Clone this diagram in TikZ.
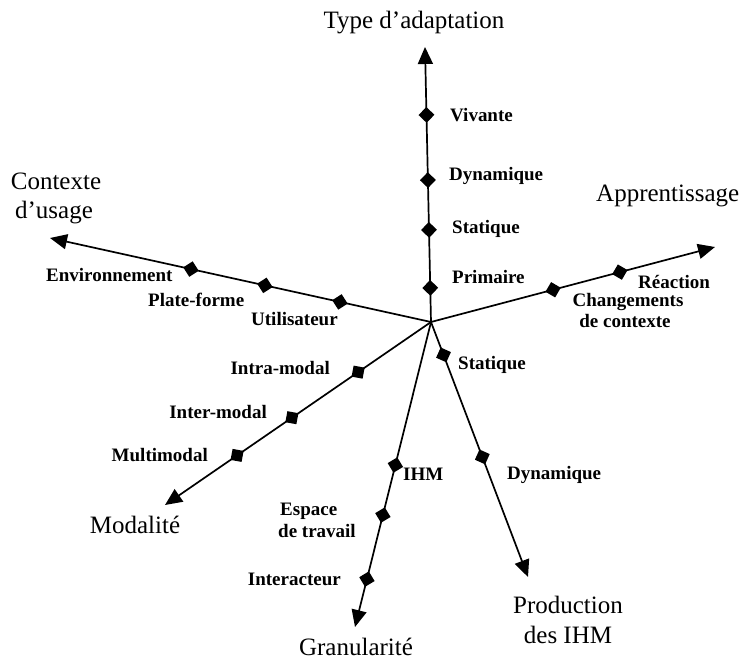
\documentclass[tikz,border=0pt]{standalone}
\usepackage{fontspec}
\setmainfont{Liberation Serif}
\usetikzlibrary{arrows.meta,shapes.geometric}
\begin{document}
\begin{tikzpicture}[x=1pt,y=-1pt,
  axis/.style={line width=1.7pt,-{Triangle[length=17pt,width=15pt]}},
  dia/.style={diamond,fill=black,inner sep=0pt,minimum width=16pt,minimum height=16pt,sloped},
  lab/.style={font=\fontsize{19}{21}\selectfont\bfseries,inner sep=0pt},
  ttl/.style={font=\fontsize{25}{28}\selectfont,inner sep=0pt}]
\useasboundingbox (0,0) rectangle (748,660);

% origin and axis ends
\coordinate (O)  at (431,322);
\coordinate (tT) at (425,47);   % type d'adaptation
\coordinate (tC) at (50,238);   % contexte d'usage
\coordinate (tA) at (715,247);  % apprentissage
\coordinate (tM) at (165,505);  % modalite
\coordinate (tG) at (355,627);  % granularite
\coordinate (tP) at (528,577);  % production des IHM

% axes
\draw[axis] (O) -- (tT);
\draw[axis] (O) -- (tC);
\draw[axis] (O) -- (tA);
\draw[axis] (O) -- (tM);
\draw[axis] (O) -- (tG);
\draw[axis] (O) -- (tP);

% graduation marks
\path (O) -- (tT)
  node[dia,pos=0.124] (dPrim) {}
  node[dia,pos=0.335] (dStat) {}
  node[dia,pos=0.516] (dDyn) {}
  node[dia,pos=0.753] (dViv) {};
\path (O) -- (tC)
  node[dia,pos=0.239] (dUtil) {}
  node[dia,pos=0.436] (dPlat) {}
  node[dia,pos=0.630] (dEnv) {};
\path (O) -- (tA)
  node[dia,pos=0.430] (dChg) {}
  node[dia,pos=0.665] (dReac) {};
\path (O) -- (tM)
  node[dia,pos=0.274] (dIntra) {}
  node[dia,pos=0.523] (dInter) {}
  node[dia,pos=0.729] (dMulti) {};
\path (O) -- (tG)
  node[dia,pos=0.469] (dIHM) {}
  node[dia,pos=0.633] (dEsp) {}
  node[dia,pos=0.843] (dInt) {};
\path (O) -- (tP)
  node[dia,pos=0.129] (dPStat) {}
  node[dia,pos=0.529] (dPDyn) {};

% axis titles
\node[ttl,anchor=base] (nT) at (414,29) {Type d’adaptation};
\node[ttl,anchor=base] (nC1) at (56,190) {Contexte};
\node[ttl,anchor=base] (nC2) at (54,219) {d’usage};
\node[ttl,anchor=base west] (nA) at (596,202) {Apprentissage};
\node[ttl,anchor=base] (nM) at (135,533) {Modalité};
\node[ttl,anchor=base] (nG) at (356,655) {Granularité};
\node[ttl,anchor=base] (nP1) at (568,613) {Production};
\node[ttl,anchor=base] (nP2) at (568,643) {des IHM};

% graduation labels
\node[lab,anchor=base west] (lViv)  at (450,122) {Vivante};
\node[lab,anchor=base west] (lDyn)  at (449,181) {Dynamique};
\node[lab,anchor=base west] (lStat) at (452,234) {Statique};
\node[lab,anchor=base west] (lPrim) at (452,284) {Primaire};
\node[lab,anchor=base west] (lEnv)  at (46,282)  {Environnement};
\node[lab,anchor=base west] (lPlat) at (148,307) {Plate-forme};
\node[lab,anchor=base west] (lUtil) at (251,326) {Utilisateur};
\node[lab,anchor=base west] (lReac) at (638,289) {Réaction};
\node[lab,anchor=base] (lChg1) at (628,307) {Changements};
\node[lab,anchor=base] (lChg2) at (625,328) {de contexte};
\node[lab,anchor=base west] (lPStat) at (458,370) {Statique};
\node[lab,anchor=base west] (lPDyn)  at (507,480) {Dynamique};
\node[lab,anchor=base east] (lIntra) at (330,375) {Intra-modal};
\node[lab,anchor=base east] (lInter) at (267,419) {Inter-modal};
\node[lab,anchor=base east] (lMulti) at (208,462) {Multimodal};
\node[lab,anchor=base west] (lIHM)  at (403,481) {IHM};
\node[lab,anchor=base west] (lEsp1) at (280,516) {Espace};
\node[lab,anchor=base west] (lEsp2) at (278,538) {de travail};
\node[lab,anchor=base east] (lInt)  at (341,586) {Interacteur};
\end{tikzpicture}
\end{document}
